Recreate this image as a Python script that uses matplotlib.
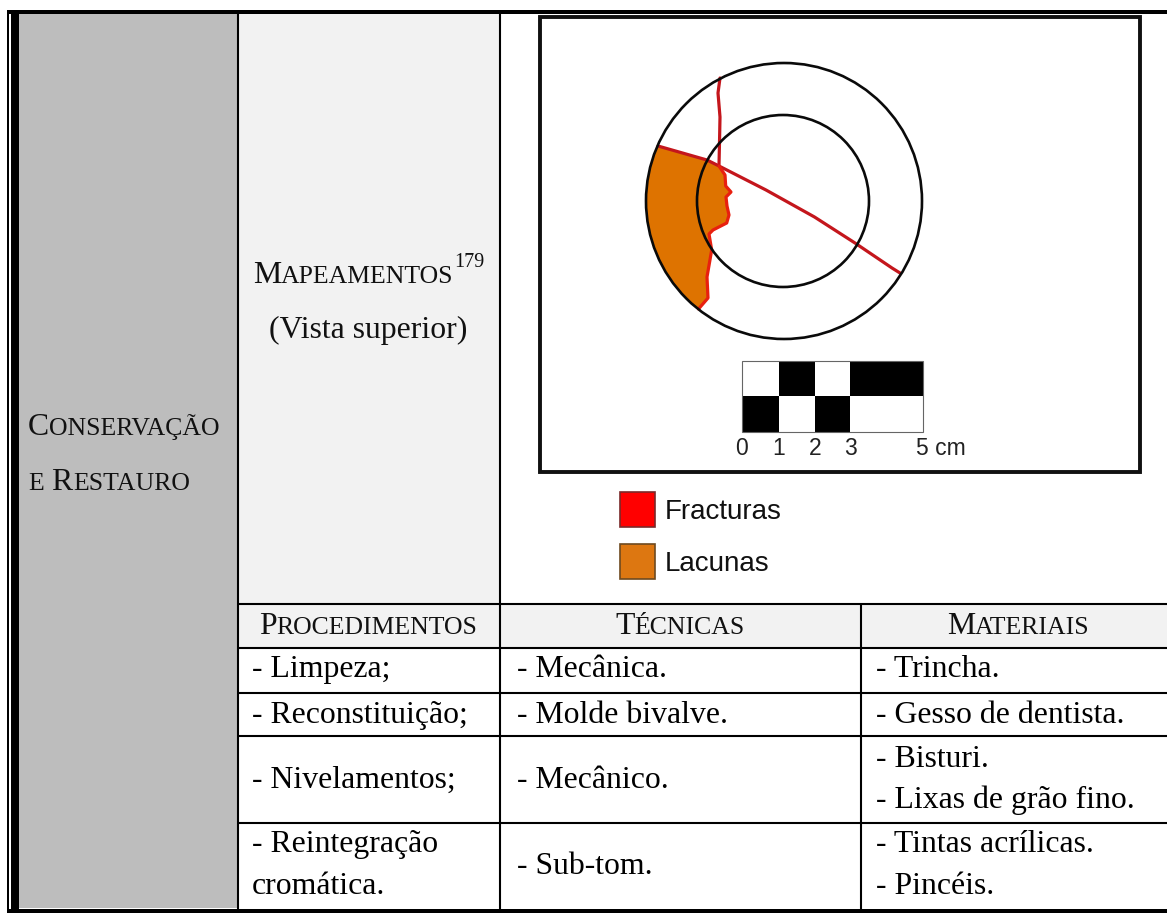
import matplotlib
matplotlib.use('Agg')
import matplotlib.pyplot as plt
from matplotlib.patches import Rectangle, Circle, Polygon

W, H = 1167, 913
SERIF = 'Liberation Serif'
SANS = 'Liberation Sans'
BODY = 22.9
SMALL = 18.5

# table grid (pixels)
col_x = [237.5, 500, 861]
row_y = [604, 648, 693, 736, 823]

# table text
headers = ['Procedimentos', 'Técnicas', 'Materiais']
header_x = [368, 680, 1018]
procedimentos = [('- Limpeza;', 677), ('- Reconstituição;', 723), ('- Nivelamentos;', 788),
                 ('- Reintegração', 852), ('cromática.', 894)]
tecnicas = [('- Mecânica.', 677), ('- Molde bivalve.', 723), ('- Mecânico.', 788), ('- Sub-tom.', 874)]
materiais = [('- Trincha.', 677), ('- Gesso de dentista.', 723), ('- Bisturi.', 767),
             ('- Lixas de grão fino.', 808), ('- Tintas acrílicas.', 852), ('- Pincéis.', 894)]

# sketch traces
crack_top = [(720, 78), (718, 93), (720, 117), (719.5, 143), (719, 165)]
crack_long = [(658, 146), (707, 160), (719, 166), (766, 190), (814.5, 217), (855, 243), (892, 268), (900, 273)]
lacuna_edge = [(719, 166), (725, 175), (725.7, 186), (731, 192), (726, 197), (727, 206), (729, 215), (726.7, 223),
               (713, 230), (709, 234), (711.7, 250), (707, 277), (708, 298), (698.5, 309)]
lacuna_outside = [(640, 320), (630, 200), (645, 140), (658, 146), (707, 160)]

# scale bar
scale_edges = [742, 779, 815, 850, 923]
scale_top = [0, 1, 0, 1]
scale_bottom = [1, 0, 1, 0]
scale_labels = ['0', '1', '2', '3']

fig = plt.figure(figsize=(W / 100, H / 100), dpi=100, facecolor='white')
ax = fig.add_axes([0, 0, 1, 1])
ax.set_xlim(0, W)
ax.set_ylim(H, 0)
ax.axis('off')


def box(x0, y0, x1, y1, color, z=1):
    ax.add_patch(Rectangle((x0, y0), x1 - x0, y1 - y0, fc=color, ec='none', lw=0, zorder=z))


def small_caps(text, x, y, center=False):
    # big first letters, smaller capitals for the rest
    rend = fig.canvas.get_renderer()
    runs = []
    for ch in text:
        big = ch.isupper() or ch == ' '
        if runs and runs[-1][1] == big:
            runs[-1][0] += ch
        else:
            runs.append([ch, big])
    parts = []
    cur = x
    for s, big in runs:
        s2 = s if big else s.upper()
        t = ax.text(cur, y, s2, family=SERIF, fontsize=BODY if big else SMALL, va='baseline', ha='left',
                    color='#111111', zorder=5)
        t.set_text(s2.replace(' ', '\u00a0'))
        cur += t.get_window_extent(rend).width
        parts.append(t)
    if center:
        shift = (cur - x) / 2
        for t in parts:
            px, py = t.get_position()
            t.set_position((px - shift, py))
    return cur


# fills
box(19, 14, 237, 908, '#BDBDBD')
box(238, 14, 500, 604, '#F2F2F2')
box(238, 604, W, 648, '#F2F2F2')

# outer borders
box(7, 10, 9, H, 'black', 3)
box(11, 10, 19, H, 'black', 3)
box(7, 10, W, 14, 'black', 3)
box(7, 909, W, H, 'black', 3)
box(11, 908, 19, 909, 'black', 3)

# grid lines
ax.vlines(col_x[0], 14, 909, color='black', lw=1.5, zorder=3)
ax.vlines(col_x[1], 14, 909, color='black', lw=1.5, zorder=3)
ax.vlines(col_x[2], row_y[0], 909, color='black', lw=1.5, zorder=3)
ax.hlines(row_y, col_x[0], W, color='black', lw=1.5, zorder=3)

# left columns text
small_caps('Conservação', 28, 435)
small_caps('e Restauro', 28, 490)
end = small_caps('Mapeamentos', 253, 283)
ax.text(end + 1, 267, '179', family=SERIF, fontsize=14.5, va='baseline', color='#111111', zorder=5)
ax.text(368, 338, '(Vista superior)', family=SERIF, fontsize=BODY, ha='center', va='baseline', color='#111111')

for label, x in zip(headers, header_x):
    small_caps(label, x, 634, center=True)
for label, y in procedimentos:
    ax.text(252, y, label, family=SERIF, fontsize=BODY, va='baseline', color='black', zorder=5)
for label, y in tecnicas:
    ax.text(517, y, label, family=SERIF, fontsize=BODY, va='baseline', color='black', zorder=5)
for label, y in materiais:
    ax.text(875.5, y, label, family=SERIF, fontsize=BODY, va='baseline', color='black', zorder=5)

# sketch frame
ax.add_patch(Rectangle((540, 17), 600, 455, fc='white', ec='#111111', lw=2.8, zorder=2))

outer = Circle((784, 201), 138, fc='none', ec='#0A0A0A', lw=1.9, zorder=7)
inner = Circle((783, 201), 86, fc='none', ec='#0A0A0A', lw=1.9, zorder=7)
lacuna = Polygon(lacuna_edge + lacuna_outside, closed=True, fc='#DE7300', ec='none', zorder=4)
ax.add_patch(lacuna)
ax.add_patch(outer)
ax.add_patch(inner)
lacuna.set_clip_path(Circle((784, 201), 138, transform=ax.transData))

ax.plot(*zip(*crack_top), color='#C4161C', lw=2.3, zorder=6, solid_capstyle='round')
ax.plot(*zip(*crack_long), color='#C4161C', lw=2.3, zorder=6, solid_capstyle='round')
ax.plot(*zip(*lacuna_edge), color='#E8200F', lw=2.3, zorder=6, solid_capstyle='round')

# scale bar
for i in range(4):
    x0, x1 = scale_edges[i], scale_edges[i + 1]
    box(x0, 361, x1, 396, 'black' if scale_top[i] else 'white', 4)
    box(x0, 396, x1, 432, 'black' if scale_bottom[i] else 'white', 4)
ax.add_patch(Rectangle((742, 361), 181, 71, fc='none', ec='#666666', lw=0.8, zorder=5))
for label, x in zip(scale_labels, scale_edges):
    ax.text(x, 455, label, family=SANS, fontsize=16.5, ha='center', va='baseline', color='#222222', zorder=5)
ax.text(916, 455, '5 cm', family=SANS, fontsize=16.5, ha='left', va='baseline', color='#222222', zorder=5)

# legend
ax.add_patch(Rectangle((619.5, 492.5), 35, 34.5, fc='#FF0000', ec='#7A2A2A', lw=1.2, zorder=3))
ax.add_patch(Rectangle((619.5, 544.5), 35, 34.5, fc='#DD7711', ec='#6E4A20', lw=1.2, zorder=3))
ax.text(665, 519, 'Fracturas', family=SANS, fontsize=20, va='baseline', color='#111111')
ax.text(665, 571, 'Lacunas', family=SANS, fontsize=20, va='baseline', color='#111111')

fig.savefig('out.png', dpi=100)
